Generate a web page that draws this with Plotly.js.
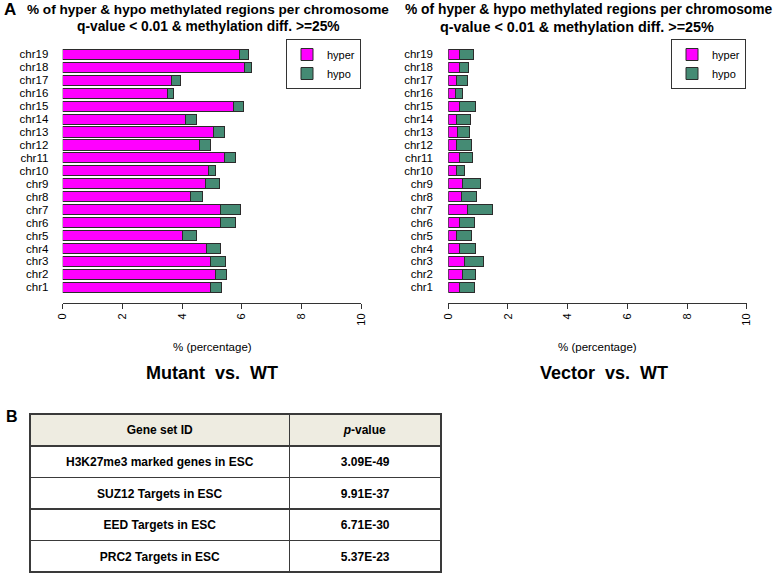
<!DOCTYPE html>
<html><head><meta charset="utf-8">
<script src="https://cdn.plot.ly/plotly-3.0.1.min.js"></script>
<style>html,body{margin:0;padding:0;background:#fff}#chart{width:774px;height:574px}</style>
</head><body><div id="chart"></div>
<script>
// ---- data ----
const chromosomes = ['chr1','chr2','chr3','chr4','chr5','chr6','chr7','chr8','chr9','chr10',
  'chr11','chr12','chr13','chr14','chr15','chr16','chr17','chr18','chr19'];
const mutantHyper = [4.96,5.12,4.96,4.82,4.01,5.28,5.28,4.30,4.78,4.89,5.44,4.59,5.06,4.11,5.74,3.51,3.65,6.09,5.94];
const mutantHypo  = [0.36,0.38,0.50,0.46,0.49,0.52,0.69,0.38,0.48,0.24,0.34,0.36,0.35,0.37,0.33,0.19,0.30,0.24,0.28];
const vectorHyper = [0.37,0.46,0.54,0.37,0.29,0.37,0.65,0.44,0.48,0.26,0.37,0.28,0.32,0.27,0.37,0.23,0.28,0.37,0.38];
const vectorHypo  = [0.51,0.45,0.63,0.54,0.48,0.51,0.84,0.51,0.60,0.27,0.43,0.49,0.40,0.47,0.54,0.25,0.35,0.31,0.47];
const xTicks = [0,2,4,6,8,10];
const geneSets = ['H3K27me3 marked genes in ESC','SUZ12 Targets in ESC','EED Targets in ESC','PRC2 Targets in ESC'];
const pValues = ['3.09E-49','9.91E-37','6.71E-30','5.37E-23'];
const tableHeader = ['Gene set ID','<i>p</i>-value'];

// ---- helpers ----
const W = 774, H = 574;
const px = x => x / W;
const py = y => 1 - y / H;
const HYPER = '#FF00FF', HYPO = '#458B74', EDGE = '#2b2b2b';
const FONT = 'Arial, "Liberation Sans", sans-serif';

function barTrace(x, name, color, xa, ya, leg, show) {
  return {type:'bar', orientation:'h', y:chromosomes, x:x, name:name, xaxis:xa, yaxis:ya,
    legend:leg, showlegend:show, marker:{color:color, line:{color:EDGE, width:1}}, hoverinfo:'x+y+name'};
}

// table text: a tiny invisible first line pushes the 12px bold text toward the cell bottom
const bold = s => '<span style="font-size:1px">&nbsp;</span><br><span style="font-size:12px"><b>' + s + '</b></span>';
const TBASE = 8.5;

const data = [
  barTrace(mutantHyper,'hyper',HYPER,'x','y','legend',true),
  barTrace(mutantHypo,'hypo',HYPO,'x','y','legend',true),
  barTrace(vectorHyper,'hyper',HYPER,'x2','y2','legend2',true),
  barTrace(vectorHypo,'hypo',HYPO,'x2','y2','legend2',true),
  {type:'table', domain:{x:[px(30),px(441.5)], y:[py(574),py(414)]}, columnwidth:[260,151.5],
    header:{values:tableHeader.map(bold), height:32, align:'center',
      fill:{color:'#EEECE1'}, line:{color:'#3a3a3a', width:1.5}, font:{family:FONT, size:TBASE, color:'#000'}},
    cells:{values:[geneSets.map(bold), pValues.map(bold)], height:31.5, align:'center',
      fill:{color:'#ffffff'}, line:{color:'#3a3a3a', width:1.5}, font:{family:FONT, size:TBASE, color:'#000'}}}
];

function xAxis(domain, anchor) {
  return {domain:domain, anchor:anchor, range:[0,10], tickvals:xTicks, ticktext:xTicks.map(String),
    tickangle:-90, ticks:'outside', ticklen:5, tickcolor:'#333', showline:true, linecolor:'#333', linewidth:1,
    showgrid:false, zeroline:false, tickfont:{size:11}, fixedrange:true};
}
function yAxis(anchor, standoff) {
  return {domain:[py(303), py(39.1)], anchor:anchor, type:'category', categoryorder:'array', categoryarray:chromosomes,
    tickmode:'array', tickvals:chromosomes, ticktext:chromosomes,
    range:[-1.21,19.18], showgrid:false, zeroline:false, showline:false, ticks:'outside', ticklen:standoff,
    tickcolor:'rgba(0,0,0,0)', tickfont:{size:11.5}, fixedrange:true};
}
function legendAt(xr) {
  return {x:px(xr), xanchor:'right', y:py(39), yanchor:'top', bordercolor:'#333', borderwidth:1,
    bgcolor:'#fff', font:{size:11}, traceorder:'normal', itemwidth:30, tracegroupgap:0};
}
function ann(text, x, y, size, boldFlag) {
  return {text: boldFlag ? '<b>' + text + '</b>' : text, x:px(x), y:py(y), xref:'paper', yref:'paper',
    xanchor:'center', yanchor:'middle', showarrow:false, font:{size:size, family:FONT, color:'#000'}};
}

const layout = {
  width:W, height:H, margin:{l:0,r:0,t:0,b:0}, paper_bgcolor:'#fff', plot_bgcolor:'rgba(0,0,0,0)',
  font:{family:FONT, color:'#000'}, barmode:'stack', bargap:0.22,
  xaxis:xAxis([px(62.7), px(361)], 'y'),
  yaxis:yAxis('x', 11),
  xaxis2:xAxis([px(448.3), px(746.7)], 'y2'),
  yaxis2:yAxis('x2', 12),
  legend:legendAt(361),
  legend2:legendAt(746),
  annotations:[
    ann('A', 10, 10, 17, true),
    ann('% of hyper &amp; hypo methylated regions per chromosome', 207.5, 10, 13.6, true),
    ann('q-value &lt; 0.01 &amp; methylation diff. &gt;=25%', 208.5, 27, 13.8, true),
    ann('% of hyper &amp; hypo methylated regions per chromosome', 589, 10, 13.8, true),
    ann('q-value &lt; 0.01 &amp; methylation diff. &gt;=25%', 577, 27, 14.4, true),
    ann('% (percentage)', 212, 346.7, 11.5, false),
    ann('% (percentage)', 597.5, 346.7, 11.5, false),
    ann('Mutant&nbsp; vs.&nbsp; WT', 211.7, 372.7, 18, true),
    ann('Vector&nbsp; vs.&nbsp; WT', 603.7, 372.7, 18, true),
    ann('B', 12.5, 416, 16, true)
  ]
};

Plotly.newPlot('chart', data, layout, {displayModeBar:false, staticPlot:true});
</script>
</body></html>
